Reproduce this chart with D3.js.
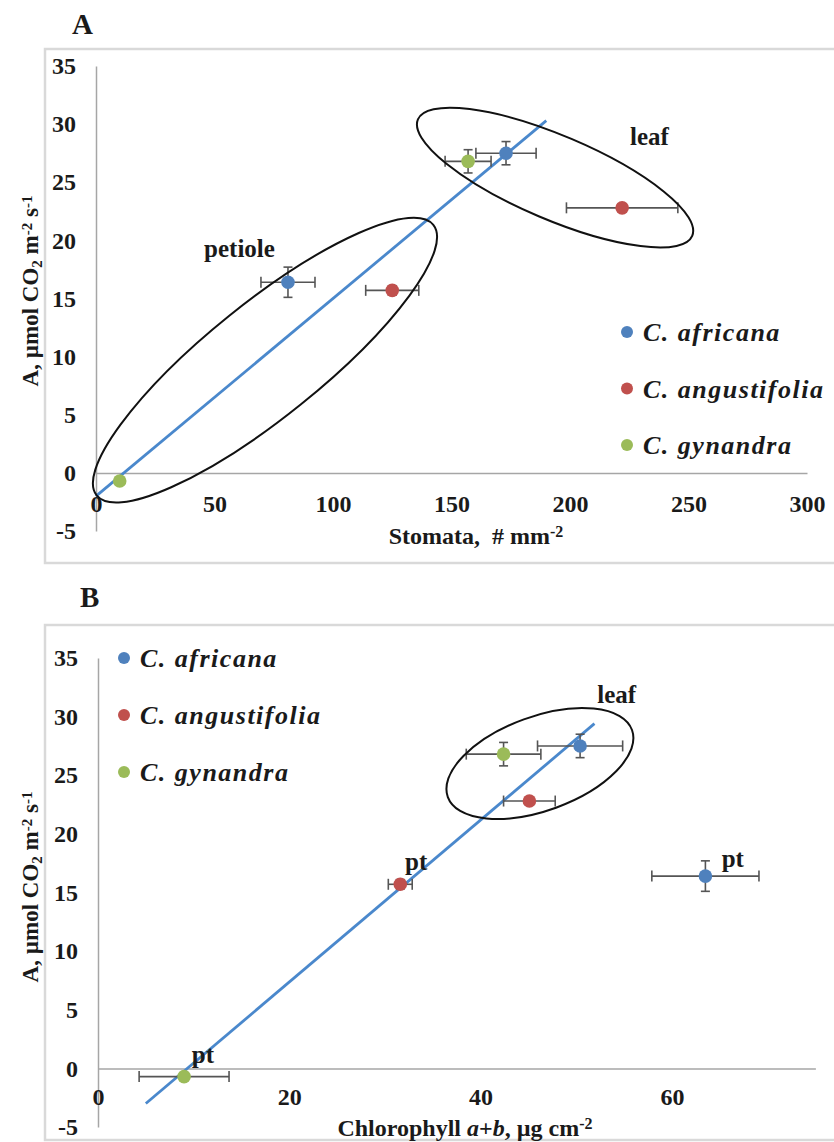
<!DOCTYPE html>
<html>
<head>
<meta charset="utf-8">
<script src="https://cdn.jsdelivr.net/npm/d3@7"></script>
<style>
  html, body { margin: 0; padding: 0; background: #fff; }
  svg { display: block; }
  text { font-family: "Liberation Serif", "Times New Roman", serif; font-weight: bold; fill: #1a1a1a; }
</style>
</head>
<body>
<svg id="chart" width="834" height="1142"></svg>
<script>
// ---------- data ----------
const species = ["C. africana", "C. angustifolia", "C. gynandra"];
const speciesColors = ["#4F81BD", "#C0504D", "#9BBB59"];

// Net photosynthesis A (µmol CO2 m-2 s-1), shared by both panels
const aLeaf = [27.5, 22.8, 26.8];
const aLeafErr = [1.0, 0.3, 1.0];
const aPetiole = [16.4, 15.7, -0.7];
const aPetioleErr = [1.3, 0.4, 0.2];

// Panel A: stomata density (# mm-2)
const stomataLeaf = [173, 222, 157];
const stomataLeafErr = [12.7, 23.5, 9.7];
const stomataPetiole = [81, 125, 10];
const stomataPetioleErr = [11.4, 11.2, 0];

// Panel B: chlorophyll a+b (µg cm-2)
const chlLeaf = [50.4, 45.1, 42.4];
const chlLeafErr = [4.45, 2.7, 3.9];
const chlPetiole = [63.5, 31.6, 9.0];
const chlPetioleErr = [5.6, 1.25, 4.7];

// trendline end points
const trendAx = [0, 190];
const trendAy = [-2.0, 30.3];
const trendBx = [5.0, 51.9];
const trendBy = [-3.0, 29.4];

// tick labels
const yTicks = [-5, 0, 5, 10, 15, 20, 25, 30, 35];
const xTicksA = [0, 50, 100, 150, 200, 250, 300];
const xTicksB = [0, 20, 40, 60];

// ---------- drawing ----------
const svg = d3.select("#chart");
const trendColor = "#4A88CC";
const errColor = "#555555";
const axisColor = "#A6A6A6";

function yTitle(g, cx, cy) {
  const t = g.append("text")
    .attr("transform", `translate(${cx},${cy}) rotate(-90)`)
    .attr("text-anchor", "middle")
    .style("font-size", "23px");
  t.append("tspan").text("A, µmol CO");
  t.append("tspan").text("2").attr("baseline-shift", "-25%").style("font-size", "15px");
  t.append("tspan").text(" m");
  t.append("tspan").text("-2").attr("baseline-shift", "40%").style("font-size", "15px");
  t.append("tspan").text(" s");
  t.append("tspan").text("-1").attr("baseline-shift", "40%").style("font-size", "15px");
}

function drawPanel(opts) {
  const g = svg.append("g");
  const { x, y } = opts;

  // frame
  g.append("rect")
    .attr("x", opts.frame[0]).attr("y", opts.frame[1])
    .attr("width", opts.frame[2]).attr("height", opts.frame[3])
    .attr("fill", "none").attr("stroke", "#D9D9D9").attr("stroke-width", 2.5);

  // panel letter
  g.append("text").attr("x", opts.letterPos[0]).attr("y", opts.letterPos[1])
    .style("font-size", "29px").text(opts.letter);

  // y axis
  const yAx = g.append("g").attr("transform", `translate(${x(0)},0)`)
    .call(d3.axisLeft(y).tickValues(yTicks).tickFormat(d => String(d)).tickSize(0).tickPadding(20).tickSizeOuter(0));
  yAx.select(".domain").attr("stroke", axisColor).attr("stroke-width", 1.5);
  yAx.selectAll("text").style("font-size", "24px").style("font-family", "Liberation Serif").attr("fill", "#1a1a1a");

  // x axis
  const xAx = g.append("g").attr("transform", `translate(0,${y(0)})`)
    .call(d3.axisBottom(x).tickValues(opts.xTicks).tickFormat(d => String(d)).tickSize(0).tickPadding(opts.xPad).tickSizeOuter(0));
  xAx.select(".domain").attr("stroke", axisColor).attr("stroke-width", 1.5);
  xAx.selectAll("text").style("font-size", "24px").style("font-family", "Liberation Serif").attr("fill", "#1a1a1a");

  // axis titles
  yTitle(g, opts.yTitlePos[0], opts.yTitlePos[1]);
  opts.xTitle(g.append("text").attr("x", opts.xTitlePos[0]).attr("y", opts.xTitlePos[1])
    .attr("text-anchor", "middle").style("font-size", "24px").attr("xml:space", "preserve"));

  // trendline
  g.append("line")
    .attr("x1", x(opts.trendX[0])).attr("y1", y(opts.trendY[0]))
    .attr("x2", x(opts.trendX[1])).attr("y2", y(opts.trendY[1]))
    .attr("stroke", trendColor).attr("stroke-width", 2.8);

  // points
  const pts = [];
  species.forEach((s, i) => {
    pts.push({ x: opts.leafX[i], xe: opts.leafXErr[i], y: aLeaf[i], ye: aLeafErr[i], c: speciesColors[i] });
    pts.push({ x: opts.petX[i], xe: opts.petXErr[i], y: aPetiole[i], ye: aPetioleErr[i], c: speciesColors[i] });
  });
  const eb = g.append("g").attr("stroke", errColor).attr("stroke-width", 1.6);
  pts.forEach(p => {
    if (p.xe > 0) {
      eb.append("line").attr("x1", x(p.x - p.xe)).attr("x2", x(p.x + p.xe)).attr("y1", y(p.y)).attr("y2", y(p.y));
      [p.x - p.xe, p.x + p.xe].forEach(v => eb.append("line").attr("x1", x(v)).attr("x2", x(v)).attr("y1", y(p.y) - 5.5).attr("y2", y(p.y) + 5.5));
    }
    if (p.ye > 0.25) {
      eb.append("line").attr("x1", x(p.x)).attr("x2", x(p.x)).attr("y1", y(p.y - p.ye)).attr("y2", y(p.y + p.ye));
      [p.y - p.ye, p.y + p.ye].forEach(v => eb.append("line").attr("x1", x(p.x) - 4.5).attr("x2", x(p.x) + 4.5).attr("y1", y(v)).attr("y2", y(v)));
    }
  });
  g.append("g").selectAll("circle").data(pts).join("circle")
    .attr("cx", d => x(d.x)).attr("cy", d => y(d.y)).attr("r", 6.8).attr("fill", d => d.c);

  // ellipses (annotation)
  opts.ellipses.forEach(e => {
    g.append("ellipse")
      .attr("transform", `translate(${x(e.cx)},${y(e.cy)}) rotate(${e.angle})`)
      .attr("rx", e.rx).attr("ry", e.ry)
      .attr("fill", "none").attr("stroke", "#111").attr("stroke-width", 2);
  });

  // annotation labels
  opts.labels.forEach(l => {
    g.append("text").attr("x", x(l.x)).attr("y", y(l.y)).style("font-size", "25px").text(l.t);
  });

  // legend
  const lg = g.append("g");
  species.forEach((s, i) => {
    const ly = opts.legendPos[1] + i * opts.legendStep;
    lg.append("circle").attr("cx", opts.legendPos[0]).attr("cy", ly).attr("r", 6).attr("fill", speciesColors[i]);
    lg.append("text").attr("x", opts.legendPos[0] + 16).attr("y", ly + 9)
      .style("font-size", "26px").style("font-style", "italic").style("letter-spacing", "1.5px").text(s);
  });
}

// Panel A
drawPanel({
  letter: "A", letterPos: [72, 34],
  frame: [45, 49, 800, 514],
  x: d3.scaleLinear().domain([0, 300]).range([96, 807]),
  y: d3.scaleLinear().domain([-5, 35]).range([531, 66]),
  xTicks: xTicksA, xPad: 22,
  yTitlePos: [38, 291],
  xTitlePos: [476, 544],
  xTitle: t => {
    t.append("tspan").text("Stomata,  # mm");
    t.append("tspan").text("-2").attr("baseline-shift", "45%").style("font-size", "16px");
  },
  trendX: trendAx, trendY: trendAy,
  leafX: stomataLeaf, leafXErr: stomataLeafErr,
  petX: stomataPetiole, petXErr: stomataPetioleErr,
  ellipses: [
    { cx: 71.3, cy: 9.7, rx: 216, ry: 57, angle: -38.8 },
    { cx: 193.7, cy: 25.4, rx: 149, ry: 42, angle: 23 }
  ],
  labels: [
    { t: "leaf", x: 225.3, y: 28.2 },
    { t: "petiole", x: 45.6, y: 18.6 }
  ],
  legendPos: [627, 332], legendStep: 56.5
});

// Panel B
drawPanel({
  letter: "B", letterPos: [80, 607],
  frame: [45, 625, 800, 515],
  x: d3.scaleLinear().domain([0, 75]).range([98, 815.4]),
  y: d3.scaleLinear().domain([-5, 35]).range([1127, 658]),
  xTicks: xTicksB, xPad: 20,
  yTitlePos: [38, 887],
  xTitlePos: [465, 1136],
  xTitle: t => {
    t.append("tspan").text("Chlorophyll ");
    t.append("tspan").text("a").style("font-style", "italic");
    t.append("tspan").text("+");
    t.append("tspan").text("b").style("font-style", "italic");
    t.append("tspan").text(", µg cm");
    t.append("tspan").text("-2").attr("baseline-shift", "45%").style("font-size", "16px");
  },
  trendX: trendBx, trendY: trendBy,
  leafX: chlLeaf, leafXErr: chlLeafErr,
  petX: chlPetiole, petXErr: chlPetioleErr,
  ellipses: [
    { cx: 46.2, cy: 26.0, rx: 98, ry: 47, angle: -20 }
  ],
  labels: [
    { t: "leaf", x: 52.2, y: 31.2 },
    { t: "pt", x: 65.2, y: 17.2 },
    { t: "pt", x: 32.1, y: 16.9 },
    { t: "pt", x: 9.8, y: 0.5 }
  ],
  legendPos: [124, 658], legendStep: 57
});
</script>
</body>
</html>
